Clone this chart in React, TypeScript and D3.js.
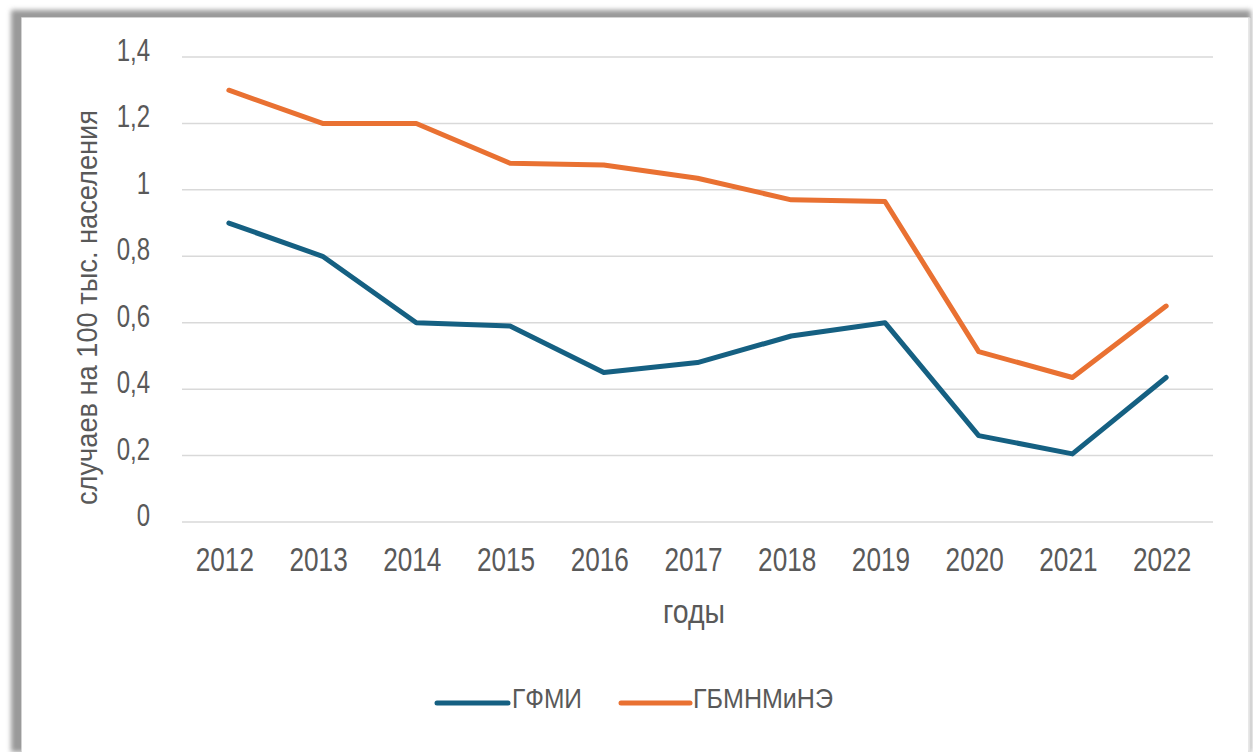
import React from "react";
import * as d3 from "d3";

const years = ["2012", "2013", "2014", "2015", "2016", "2017", "2018", "2019", "2020", "2021", "2022"];
const gfmi = [0.9, 0.8, 0.6, 0.59, 0.45, 0.48, 0.56, 0.6, 0.26, 0.205, 0.435];
const gbmn = [1.3, 1.2, 1.2, 1.08, 1.075, 1.035, 0.97, 0.965, 0.513, 0.435, 0.65];
const yTicks = [0, 0.2, 0.4, 0.6, 0.8, 1, 1.2, 1.4];
const seriesNames = ["ГФМИ", "ГБМНМиНЭ"];
const yTitle = "случаев на 100 тыс. населения";
const xTitle = "годы";

const BLUE = "#156082";
const ORANGE = "#E97132";
const TXT = "#595959";
const FONT = "'Liberation Sans', Arial, sans-serif";

export default function App() {
  const x = d3.scaleBand<string>().domain(years).range([182, 1213]);
  const cx = (d: string) => (x(d) as number) + x.bandwidth() / 2;
  const y = d3.scaleLinear().domain([0, 1.4]).range([522, 57]);
  const line = d3
    .line<number>()
    .x((_, i) => cx(years[i]))
    .y((v) => y(v));
  const fmt = (v: number) => String(+v.toFixed(1)).replace(".", ",");
  const series = [
    { name: seriesNames[0], values: gfmi, color: BLUE },
    { name: seriesNames[1], values: gbmn, color: ORANGE },
  ];
  const legend = [
    { x1: 437, x2: 508, tx: 512, tw: 70, name: seriesNames[0], color: BLUE },
    { x1: 621, x2: 690, tx: 693, tw: 140, name: seriesNames[1], color: ORANGE },
  ];
  return (
    <svg
      width={1253}
      height={752}
      style={{ position: "absolute", left: 0, top: 0, display: "block" }}
      fontFamily={FONT}
    >
      <defs>
        <filter id="blur" x="-5%" y="-5%" width="110%" height="110%">
          <feGaussianBlur stdDeviation="2.5" />
        </filter>
      </defs>
      <rect x={0} y={0} width={1253} height={752} fill="#fff" />
      <rect x={11} y={10} width={1240} height={742} fill="#9a9a9a" filter="url(#blur)" />
      <rect x={22} y={18} width={1227} height={733} fill="#fff" stroke="#e6e6e6" strokeWidth={1.5} />
      <rect x={22} y={18} width={1226} height={740} fill="#fff" />
      <line x1={1249.5} x2={1249.5} y1={18} y2={752} stroke="#e3e3e3" strokeWidth={2} />
      {yTicks.map((t) => (
        <g key={t}>
          <line x1={182} x2={1213} y1={y(t)} y2={y(t)} stroke="#d9d9d9" strokeWidth={1.5} />
          <text
            transform={`translate(150,${y(t) + 4}) scale(0.75,1)`}
            textAnchor="end"
            fontSize={32}
            fill={TXT}
          >
            {fmt(t)}
          </text>
        </g>
      ))}
      {years.map((yr) => (
        <text
          key={yr}
          transform={`translate(${cx(yr) - 4},571) scale(0.77,1)`}
          textAnchor="middle"
          fontSize={34}
          fill={TXT}
        >
          {yr}
        </text>
      ))}
      <text
        transform="translate(97,307.5) rotate(-90)"
        textAnchor="middle"
        fontSize={30}
        fill={TXT}
        textLength={395}
        lengthAdjust="spacingAndGlyphs"
      >
        {yTitle}
      </text>
      <text x={663} y={623} fontSize={33} fill={TXT} textLength={62} lengthAdjust="spacingAndGlyphs">
        {xTitle}
      </text>
      {series.map((s) => (
        <path
          key={s.name}
          d={line(s.values) || ""}
          fill="none"
          stroke={s.color}
          strokeWidth={5}
          strokeLinejoin="round"
          strokeLinecap="round"
        />
      ))}
      {legend.map((l) => (
        <g key={l.name}>
          <line x1={l.x1} x2={l.x2} y1={703} y2={703} stroke={l.color} strokeWidth={5} strokeLinecap="round" />
          <text x={l.tx} y={708} fontSize={28} fill={TXT} textLength={l.tw} lengthAdjust="spacingAndGlyphs">
            {l.name}
          </text>
        </g>
      ))}
    </svg>
  );
}
